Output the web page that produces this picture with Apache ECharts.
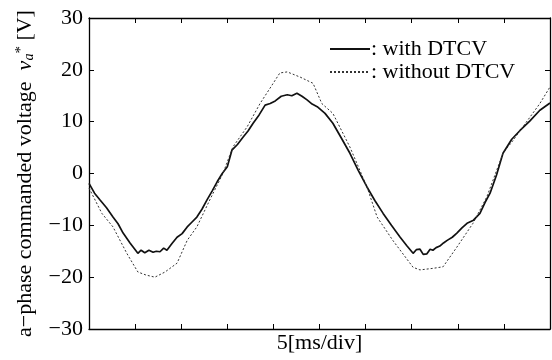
<!DOCTYPE html>
<html><head><meta charset="utf-8">
<script src="https://cdn.jsdelivr.net/npm/echarts@6/dist/echarts.min.js"></script>
<style>html,body{margin:0;padding:0;background:#fff}#c{width:552px;height:360px}</style>
</head><body><div id="c"></div>
<script>
// time in divisions (5 ms/div)
var withX = [0,0.12,0.24,0.38,0.52,0.63,0.74,0.89,1.06,1.13,1.21,1.30,1.39,1.46,1.54,1.62,1.69,1.80,1.91,2.02,2.13,2.23,2.34,2.45,2.56,2.67,2.78,2.89,3.0,3.10,3.22,3.34,3.45,3.56,3.69,3.82,3.93,4.04,4.17,4.30,4.40,4.51,4.62,4.73,4.84,4.95,5.12,5.29,5.47,5.66,5.84,6.03,6.20,6.38,6.56,6.75,6.89,7.03,7.10,7.18,7.25,7.33,7.40,7.46,7.53,7.61,7.69,7.77,7.88,7.98,8.09,8.20,8.34,8.48,8.59,8.70,8.84,8.98,9.17,9.35,9.56,9.78,10.0];
var withY = [-1.9,-3.8,-5.1,-6.6,-8.4,-9.7,-11.5,-13.4,-15.4,-14.8,-15.3,-14.8,-15.2,-15.0,-15.1,-14.4,-14.8,-13.5,-12.3,-11.6,-10.3,-9.4,-8.4,-6.9,-5.1,-3.4,-1.6,0.0,1.3,4.5,5.6,7.0,8.2,9.7,11.3,13.2,13.5,14.0,14.9,15.2,15.0,15.5,14.9,14.2,13.4,12.9,11.6,9.7,6.9,3.9,0.6,-2.6,-5.2,-7.7,-10.0,-12.3,-13.9,-15.4,-14.7,-14.6,-15.6,-15.5,-14.6,-14.8,-14.3,-14.0,-13.4,-12.9,-12.3,-11.5,-10.5,-9.6,-9.0,-7.7,-5.6,-3.8,-0.3,3.9,6.6,8.3,10.1,12.2,13.6];
var withoutX = [0,0.28,0.52,0.82,1.06,1.24,1.43,1.65,1.91,2.13,2.34,2.62,2.91,3.12,3.43,3.71,3.93,4.14,4.30,4.58,4.86,5.05,5.29,5.66,6.03,6.25,6.59,7.03,7.18,7.46,7.68,7.98,8.33,8.63,8.98,9.20,9.78,10.0];
var withoutY = [-2.8,-7.7,-10.3,-15.4,-19.0,-19.6,-20.0,-19.0,-17.3,-12.9,-10.3,-5.1,0.1,5.1,9.0,13.5,16.5,19.4,19.6,18.6,17.4,13.5,11.6,5.1,-2.6,-8.4,-12.9,-18.1,-18.6,-18.3,-18.0,-14.2,-9.6,-4.5,3.9,6.4,13.5,16.7];
var yTicks = [-30,-20,-10,0,10,20,30];
var seriesNames = [': with DTCV', ': without DTCV'];
var xName = '5[ms/div]';

function pairs(xs, ys){ return xs.map(function(x,i){ return [x, ys[i]]; }); }
var font = 'Liberation Serif, Times New Roman, serif';
var FS = 22;
var chart = echarts.init(document.getElementById('c'), null, {renderer:'canvas'});
var axLine = {show:true, onZero:false, lineStyle:{color:'#000', width:1.3}};
var tick = {show:true, inside:true, length:5, lineStyle:{color:'#000'}};
chart.setOption({
  animation:false,
  backgroundColor:'#fff',
  grid:{left:89, right:2, top:18, bottom:31, show:false},
  legend:{
    top:33, left:324, orient:'vertical', itemGap:1,
    itemWidth:40, itemHeight:10,
    itemStyle:{opacity:0},
    textStyle:{fontFamily:font, fontSize:FS, color:'#000', padding:[0,0,0,-4]},
    data:[{name:seriesNames[0]},{name:seriesNames[1]}]
  },
  xAxis:[{
    type:'value', min:0, max:10, interval:1,
    axisLine:axLine, axisTick:tick,
    axisLabel:{show:false}, splitLine:{show:false},
    name:xName, nameLocation:'middle', nameGap:3,
    nameTextStyle:{fontFamily:font, fontSize:FS, color:'#000', verticalAlign:'top'}
  },{
    type:'value', min:0, max:10, interval:1, position:'top',
    axisLine:axLine, axisTick:tick,
    axisLabel:{show:false}, splitLine:{show:false}
  }],
  yAxis:[{
    type:'value', min:yTicks[0], max:yTicks[yTicks.length-1], interval:10,
    axisLine:axLine, axisTick:tick,
    axisLabel:{fontFamily:font, fontSize:FS, color:'#000', margin:6,
      formatter:function(v){ return v<0 ? '\u2212'+Math.abs(v) : String(v); }},
    splitLine:{show:false},
    name:'{n|a\u2212phase commanded voltage  }{i|v}{s|a}{p|*}{n| [V]}',
    nameLocation:'middle', nameRotate:90, nameGap:53,
    nameTextStyle:{fontFamily:font, fontSize:FS, color:'#000',
      rich:{
        n:{fontFamily:font, fontSize:FS, color:'#000'},
        i:{fontFamily:font, fontSize:FS, fontStyle:'italic', color:'#000'},
        s:{fontFamily:font, fontSize:14, fontStyle:'italic', color:'#000', verticalAlign:'bottom'},
        p:{fontFamily:font, fontSize:15, color:'#000', verticalAlign:'top'}
      }}
  },{
    type:'value', min:-30, max:30, interval:10, position:'right',
    axisLine:axLine, axisTick:tick,
    axisLabel:{show:false}, splitLine:{show:false}
  }],
  series:[{
    name:seriesNames[0], type:'line', data:pairs(withX, withY),
    showSymbol:false, symbol:'none', smooth:false,
    lineStyle:{color:'#111', width:1.7}, itemStyle:{color:'#111'}
  },{
    name:seriesNames[1], type:'line', data:pairs(withoutX, withoutY),
    showSymbol:false, symbol:'none', smooth:false,
    lineStyle:{color:'#333', width:1, type:[2,2]}, itemStyle:{color:'#333'}
  }]
});
</script></body></html>
